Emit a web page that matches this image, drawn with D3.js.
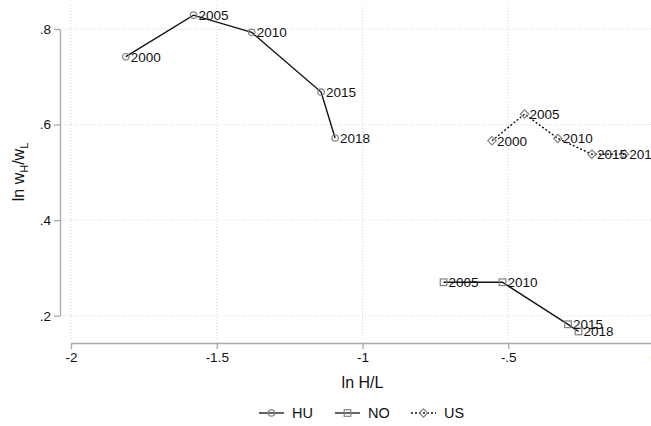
<!DOCTYPE html>
<html>
<head>
<meta charset="utf-8">
<script src="https://cdn.jsdelivr.net/npm/d3@7"></script>
<style>
  body { margin: 0; background: #fff; }
  svg { display: block; font-family: "Liberation Sans", Arial, sans-serif; }
</style>
</head>
<body>
<svg id="chart"></svg>
<script>
// values
const years = [2000, 2005, 2010, 2015, 2018]
const huX = [-1.812, -1.580, -1.380, -1.142, -1.094]
const huY = [0.742, 0.829, 0.793, 0.668, 0.572]
const noYears = [2005, 2010, 2015, 2018]
const noX = [-0.722, -0.520, -0.295, -0.259]
const noY = [0.270, 0.270, 0.182, 0.167]
const usX = [-0.556, -0.444, -0.330, -0.213, -0.102]
const usY = [0.566, 0.622, 0.571, 0.538, 0.538]
const xTicks = [-2, -1.5, -1, -0.5, 0]
const yTicks = [0.2, 0.4, 0.6, 0.8]
const seriesNames = ["HU", "NO", "US"]

const width = 651, height = 426
const svg = d3.select('#chart').attr('width', width).attr('height', height)

const x = d3.scaleLinear().domain([-2, 0]).range([71, 654])
const y = d3.scaleLinear().domain([0.2, 0.8]).range([315.7, 29])

const fmt = d => {
    if (d === 0) return "0"
    return String(d).replace(/^0\./, '.').replace(/^-0\./, '-.')
}

// grid
const grid = svg.append('g').attr('stroke', '#d6d6d6').attr('stroke-width', 1).attr('stroke-dasharray', '1,2')
grid.selectAll('.vg').data(xTicks).join('line')
    .attr('x1', d => x(d)).attr('x2', d => x(d)).attr('y1', 5).attr('y2', 340)
grid.selectAll('.hg').data(yTicks).join('line')
    .attr('y1', d => y(d)).attr('y2', d => y(d)).attr('x1', 62).attr('x2', width)

// axes
svg.append('g').attr('transform', 'translate(60,0)')
    .call(d3.axisLeft(y).tickValues(yTicks).tickFormat(fmt).tickSize(6).tickSizeOuter(0).tickPadding(3))
svg.append('g').attr('transform', 'translate(0,343)')
    .call(d3.axisBottom(x).tickValues(xTicks).tickFormat(fmt).tickSize(6).tickSizeOuter(0).tickPadding(3))
svg.selectAll('.domain, .tick line').attr('stroke', '#a8a8a8').attr('stroke-width', 1.3)
svg.selectAll('.tick text').attr('font-size', 13.5).attr('fill', '#111')
    .attr('font-family', '"Liberation Sans", Arial, sans-serif')

// axis titles
svg.append('text').attr('x', (71 + 654) / 2).attr('y', 388).attr('text-anchor', 'middle')
    .attr('font-size', 16).attr('fill', '#111').text('ln H/L')
const yt = svg.append('text').attr('transform', 'translate(24,172) rotate(-90)')
    .attr('text-anchor', 'middle').attr('font-size', 16).attr('fill', '#111')
yt.append('tspan').text('ln w')
yt.append('tspan').attr('font-size', 11).attr('dy', 4).text('H')
yt.append('tspan').attr('dy', -4).text('/w')
yt.append('tspan').attr('font-size', 11).attr('dy', 4).text('L')

// markers
const markerColor = '#808080'
function drawMarker(g, shape, cx, cy) {
    if (shape === 'circle') {
        g.append('circle').attr('cx', cx).attr('cy', cy).attr('r', 3.2)
            .attr('fill', 'none').attr('stroke', markerColor).attr('stroke-width', 1.2)
    } else if (shape === 'square') {
        g.append('rect').attr('x', cx - 3.3).attr('y', cy - 3.3).attr('width', 6.6).attr('height', 6.6)
            .attr('fill', 'none').attr('stroke', markerColor).attr('stroke-width', 1.2)
    } else {
        const r = 4.2
        g.append('path').attr('d', `M${cx},${cy - r}L${cx + r},${cy}L${cx},${cy + r}L${cx - r},${cy}Z`)
            .attr('fill', 'none').attr('stroke', markerColor).attr('stroke-width', 1.2)
    }
}

function drawSeries(xs, ys, labels, shape, dash) {
    const pts = xs.map((v, i) => ({ x: v, y: ys[i], label: labels[i] }))
    const g = svg.append('g')
    g.append('path').datum(pts)
        .attr('d', d3.line().x(d => x(d.x)).y(d => y(d.y)))
        .attr('fill', 'none').attr('stroke', '#111').attr('stroke-width', 1.4)
        .attr('stroke-dasharray', dash)
    pts.forEach(p => drawMarker(g, shape, x(p.x), y(p.y)))
    g.selectAll('.lab').data(pts).join('text')
        .attr('x', d => x(d.x) + 5).attr('y', d => y(d.y)).attr('dy', '0.36em')
        .attr('font-size', 13.5).attr('fill', '#111').text(d => d.label)
}

drawSeries(huX, huY, years, 'circle', null)
drawSeries(noX, noY, noYears, 'square', null)
drawSeries(usX, usY, years, 'diamond', '2,2')

// legend
const legend = [
    { name: seriesNames[0], shape: 'circle', dash: null, x0: 259 },
    { name: seriesNames[1], shape: 'square', dash: null, x0: 335 },
    { name: seriesNames[2], shape: 'diamond', dash: '2,2', x0: 411 }
]
const ly = 413
legend.forEach(l => {
    const g = svg.append('g')
    g.append('line').attr('x1', l.x0).attr('x2', l.x0 + 25).attr('y1', ly).attr('y2', ly)
        .attr('stroke', '#111').attr('stroke-width', 1.3).attr('stroke-dasharray', l.dash)
    drawMarker(g, l.shape, l.x0 + 12.5, ly)
    g.append('text').attr('x', l.x0 + 33).attr('y', ly).attr('dy', '0.36em')
        .attr('font-size', 14.5).attr('fill', '#111').text(l.name)
})
</script>
</body>
</html>
